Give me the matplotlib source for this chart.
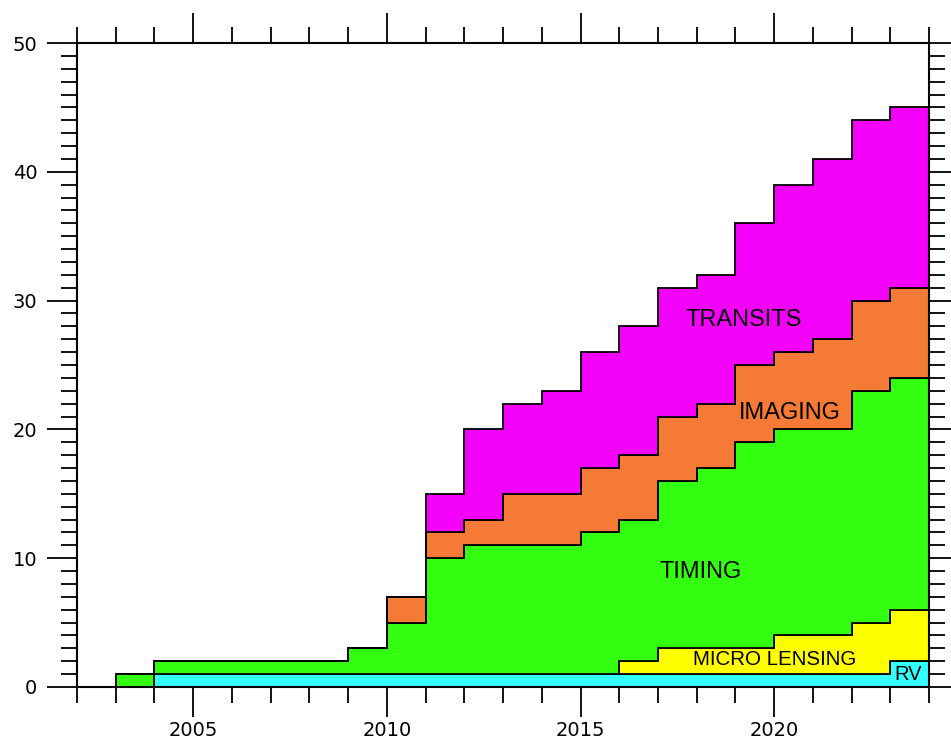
import numpy as np
import matplotlib
matplotlib.use('Agg')
import matplotlib.pyplot as plt
from matplotlib.ticker import MultipleLocator

# discoveries per year, by method (year bins start at 2003, last bin ends 2024)
years = list(range(2003, 2024))
rv = [0, 1, 1, 1, 1, 1, 1, 1, 1, 1, 1, 1, 1, 1, 1, 1, 1, 1, 1, 1, 2]
micro_lensing = [0, 0, 0, 0, 0, 0, 0, 0, 0, 0, 0, 0, 0, 1, 2, 2, 2, 3, 3, 4, 4]
timing = [1, 1, 1, 1, 1, 1, 2, 4, 9, 10, 10, 10, 11, 11, 13, 14, 16, 16, 16, 18, 18]
imaging = [0, 0, 0, 0, 0, 0, 0, 2, 2, 2, 4, 4, 5, 5, 5, 5, 6, 6, 7, 7, 7]
transits = [0, 0, 0, 0, 0, 0, 0, 0, 3, 7, 7, 8, 9, 10, 10, 10, 11, 13, 14, 14, 14]

layers = [
    ('RV', rv, '#33FFFF'),
    ('MICRO LENSING', micro_lensing, '#FFFF00'),
    ('TIMING', timing, '#33FF11'),
    ('IMAGING', imaging, '#F47A36'),
    ('TRANSITS', transits, '#F200F8'),
]

edges = np.array(years + [years[-1] + 1])

fig = plt.figure(figsize=(9.51, 7.43), dpi=100)
ax = fig.add_axes([0.081, 0.0754, 0.896, 0.8667])

bottom = np.zeros(len(years))
for name, vals, color in layers:
    top = bottom + np.array(vals)
    ax.stairs(top, edges, baseline=bottom.copy(), fill=True,
              facecolor=color, edgecolor='black', linewidth=1.3, zorder=2)
    bottom = top

# labels inside the bands
txt = dict(ha='center', va='center', family='Liberation Sans', color='black', zorder=3)
ax.text(2019.2, 28.5, 'TRANSITS', fontsize=17, **txt)
ax.text(2020.4, 21.3, 'IMAGING', fontsize=17, **txt)
ax.text(2018.1, 8.9, 'TIMING', fontsize=17, **txt)
ax.text(2020.0, 2.1, 'MICRO LENSING', fontsize=14.8, **txt)
ax.text(2023.45, 1.0, 'RV', fontsize=14.5, **txt)

ax.set_xlim(2002, 2024)
ax.set_ylim(0, 50)
ax.xaxis.set_major_locator(MultipleLocator(5))
ax.xaxis.set_minor_locator(MultipleLocator(1))
ax.yaxis.set_major_locator(MultipleLocator(10))
ax.yaxis.set_minor_locator(MultipleLocator(1))

ax.tick_params(which='both', direction='out', top=True, right=True,
               labeltop=False, labelright=False, width=1.3, labelsize=14)
ax.tick_params(which='major', length=21.6)
ax.tick_params(which='minor', length=11.2)
ax.tick_params(axis='x', which='major', pad=3)
ax.tick_params(axis='y', which='major', pad=7)
for s in ax.spines.values():
    s.set_linewidth(1.5)

fig.savefig('out.png', dpi=100)
